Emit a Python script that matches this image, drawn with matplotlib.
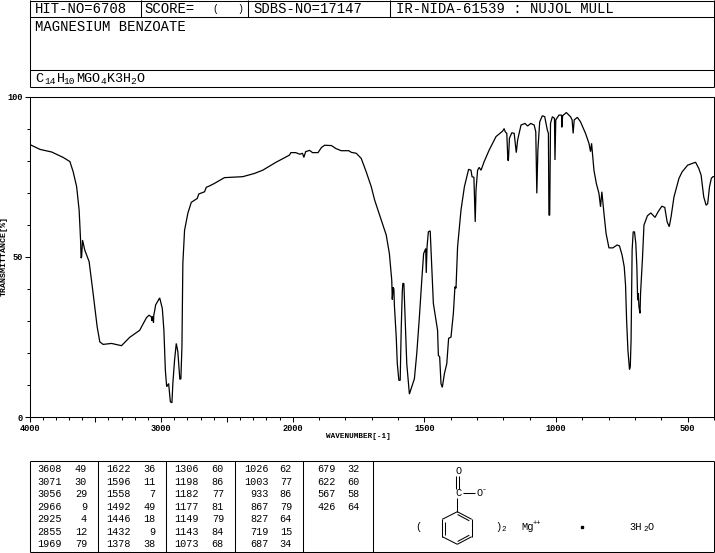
import numpy as np
import matplotlib
matplotlib.use("Agg")
import matplotlib.pyplot as plt
from matplotlib.ticker import FixedLocator, FixedFormatter

wavenumber = [4000,3996,3920,3832,3744,3693,3668,3642,3623,3612,3608,3604,3597,3580,3547,3517,3486,3466,3441,3377,3301,3239,3163,3112,3092,3074,3071,3064,3058,3056,3050,3042,3011,2991,2979,2968,2958,2943,2930,2918,2911,2898,2885,2873,2858,2850,2842,2835,2822,2797,2771,2726,2714,2670,2657,2633,2595,2519,2380,2292,2229,2127,2026,2014,1989,1973,1963,1958,1951,1936,1925,1904,1891,1879,1853,1837,1816,1787,1778,1759,1740,1721,1702,1689,1645,1633,1624,1622,1619,1616,1614,1607,1603,1597,1592,1588,1584,1582,1578,1573,1567,1557,1538,1529,1519,1510,1503,1495,1493,1490,1485,1478,1472,1466,1450,1447,1442,1437,1432,1424,1415,1408,1399,1390,1384,1380,1374,1361,1348,1332,1323,1319,1312,1307,1304,1298,1292,1285,1273,1254,1228,1203,1197,1193,1187,1183,1181,1177,1168,1159,1151,1146,1133,1118,1108,1096,1083,1077,1073,1069,1062,1052,1043,1033,1029,1027,1024,1021,1014,1006,1004,1001,989,979,978,975,961,945,939,935,931,919,907,888,875,869,865,856,847,837,831,826,818,810,799,784,768,759,749,741,736,732,727,721,718,715,711,707,702,697,693,690,688,685,681,679,672,666,653,640,624,612,598,587,578,570,563,552,533,521,500,470,458,449,439,430,424,417,410,404,400]
transmittance = [85.1,85.0,83.5,82.7,81.0,79.7,76.5,71.9,64.6,55.2,49.6,50.0,55.2,52.1,48.5,38.7,28.2,23.5,22.7,23.0,22.3,24.9,27.1,31.0,31.8,31.3,30.0,31.5,29.5,31.8,33.0,35.0,37.2,33.9,27.1,14.7,9.5,10.5,4.8,4.5,10.5,17.8,23.0,20.4,11.8,12.0,21.9,48.0,58.3,63.6,67.0,68.2,69.6,70.3,71.7,72.1,72.9,74.7,75.0,76.0,77.0,79.5,81.7,82.5,82.5,82.0,82.3,81.0,82.8,83.2,82.5,82.5,84.1,84.8,84.7,83.8,83.1,83.1,82.6,82.3,80.7,76.5,71.9,67.7,56.8,51.0,42.7,36.7,40.5,40.0,34.9,25.0,16.7,11.5,11.5,27.8,39.1,41.7,41.7,30.3,16.7,7.2,12.0,19.9,31.3,42.7,51.0,52.6,45.0,53.1,57.8,58.1,46.9,35.5,27.1,19.3,18.8,10.5,9.3,13.6,16.7,24.6,25.0,32.4,40.7,40.2,53.1,64.6,71.9,77.3,77.0,75.0,74.8,60.9,70.8,77.0,77.9,77.0,79.7,83.3,87.5,89.2,90.0,89.0,88.5,80.2,80.0,87.0,88.7,88.5,82.5,86.4,91.1,91.6,90.8,91.6,91.1,89.0,69.8,83.3,92.1,94.0,93.7,89.5,88.5,63.0,63.0,91.6,93.7,93.2,80.2,92.7,94.2,94.2,90.4,94.0,95.0,93.7,92.7,88.5,92.7,93.5,92.1,88.5,85.4,82.8,85.4,77.0,72.9,69.8,65.6,70.3,63.6,57.3,52.8,52.8,53.7,53.4,50.5,46.9,41.2,30.3,20.9,14.9,15.7,24.0,52.1,57.8,57.8,54.2,46.9,36.5,38.6,34.4,32.4,38.6,49.0,59.9,62.8,63.7,62.3,64.1,65.8,65.4,60.9,59.4,62.5,68.7,74.5,76.5,78.6,79.5,77.6,75.5,68.7,66.1,66.6,71.9,74.5,75.0,75.0]

peak_columns = [
    [("3608",49),("3071",30),("3056",29),("2966",9),("2925",4),("2855",12),("1969",79)],
    [("1622",36),("1596",11),("1558",7),("1492",49),("1446",18),("1432",9),("1378",38)],
    [("1306",60),("1198",86),("1182",77),("1177",81),("1149",79),("1143",84),("1073",68)],
    [("1026",62),("1003",77),("933",86),("867",79),("827",64),("719",15),("687",34)],
    [("679",32),("622",60),("567",58),("426",64)],
]
x_tick_labels = [4000, 3000, 2000, 1500, 1000, 500]
y_tick_labels = [0, 50, 100]

W, H = 715, 553
MONO = "Liberation Mono"
LW = 0.75
fig = plt.figure(figsize=(W/100, H/100), dpi=100, facecolor="white")

# page furniture in pixel coordinates
page = fig.add_axes([0, 0, 1, 1])
page.set_xlim(0, W); page.set_ylim(H, 0); page.axis("off")

def seg(x0, y0, x1, y1, lw=LW):
    page.plot([x0, x1], [y0, y1], color="black", lw=lw, solid_capstyle="butt")

def txt(x, y, s, size=10, ha="left", **kw):
    page.text(x, y, s, fontsize=size, family=MONO, ha=ha, va="center", color="black", **kw)

L, R = 29.5, 714
seg(L, 0.5, R, 0.5); seg(L, 17, R, 17); seg(L, 69.5, R, 69.5); seg(L, 87.3, R, 87.3)
seg(L, 0, L, 87.3); seg(R, 0, R, 87.3)
for vx in (141, 248.3, 390.3):
    seg(vx, 0, vx, 17)
txt(35, 9.3, "HIT-NO=6708"); txt(144, 9.3, "SCORE=")
txt(212.5, 9.3, "(", size=7); txt(237.5, 9.3, ")", size=7)
txt(253, 9.3, "SDBS-NO=17147"); txt(396, 9.3, "IR-NIDA-61539 : NUJOL MULL")
txt(35, 27, "MAGNESIUM BENZOATE")
for x, s, big in [(35,"C",1),(44,"14",0),(56.5,"H",1),(63.5,"10",0),(76,"MGO",1),(100.5,"4",0),(107,"K3H",1),(130.5,"2",0),(136.5,"O",1)]:
    if big:
        txt(x, 78.5, s, size=9.6)
    else:
        txt(x, 82, s, size=6.8)

# lower table
T0, T1 = 460.7, 552.3
seg(L, T0, R, T0); seg(L, T1, R, T1); seg(L, T0, L, T1); seg(R, T0, R, T1)
for vx in (98.3, 166, 235.3, 303, 372.5):
    seg(vx, T0, vx, T1)
code_right = [62, 130.7, 199, 268.7, 336]
val_right = [87, 155.7, 224, 292, 360]
row_y = [469.3, 481.8, 494.3, 506.8, 519.3, 531.8, 544]
for col, cx, vx in zip(peak_columns, code_right, val_right):
    for (code, val), y in zip(col, row_y):
        txt(cx, y, code, size=7.3, ha="right")
        txt(vx, y, str(val), size=7.3, ha="right")

# structure
ring = [(457.3,511.7),(471.7,519.3),(471.7,536.7),(457.3,544.3),(442.3,536.7),(442.3,519.3),(457.3,511.7)]
for a, b in zip(ring, ring[1:]):
    seg(a[0], a[1], b[0], b[1])
seg(445, 521.5, 445, 534.5); seg(457.6, 514.5, 469.3, 520.8); seg(457.6, 541.5, 469.3, 535.2)
seg(457.3, 497.5, 457.3, 511.7); seg(456.3, 475.5, 456.3, 488.5); seg(458.8, 475.5, 458.8, 488.5)
seg(462.5, 493.3, 474.5, 493.3)
txt(458, 493, "C", size=7.5, ha="center"); txt(458.7, 471, "O", size=7.5, ha="center")
txt(480, 493, "O", size=7.5, ha="center"); txt(484.5, 490, "-", size=6, ha="center")
txt(418.5, 526.7, "(", size=7.5, ha="center"); txt(498.5, 527, ")", size=7.5, ha="center")
txt(503.5, 529.5, "2", size=5.5, ha="center")
txt(528, 527, "Mg", size=7.5, ha="center"); txt(537, 524, "++", size=5, ha="center")
page.plot([582], [527], marker="s", ms=1.8, color="black")
txt(629, 527, "3H", size=7.5); txt(643, 529.5, "2", size=5.5); txt(647, 527, "O", size=7.5)

# axis titles
txt(358.5, 437, "WAVENUMBER[-1]", size=5.5, ha="center", fontweight="bold")
page.text(4, 256.5, "TRANSMITTANCE[%]", fontsize=6.0, family=MONO, rotation=90, ha="center", va="center", fontweight="bold")

# spectrum axes
ax_top, ax_bot = 96.5, 417.2
ax = fig.add_axes([L/W, 1-ax_bot/H, (R-L)/W, (ax_bot-ax_top)/H])
ax.patch.set_alpha(0)

def fwd(x):
    x = np.asarray(x, dtype=float)
    return np.where(x >= 2000, x, 2000 - (2000 - x) * 2.0)

def inv(v):
    v = np.asarray(v, dtype=float)
    return np.where(v >= 2000, v, 2000 - (2000 - v) / 2.0)

ax.set_xscale("function", functions=(fwd, inv))
ax.plot(wavenumber, transmittance, color="black", lw=0.9, solid_joinstyle="miter", clip_on=True)
ax.set_xlim(4000, 400)
ax.set_ylim(0, 100)
for s in ax.spines.values():
    s.set_linewidth(LW)

major_x = list(range(500, 4001, 500))
minor_x = [v for v in range(400, 4001, 100) if v not in major_x]
ax.xaxis.set_major_locator(FixedLocator(major_x))
ax.xaxis.set_minor_locator(FixedLocator(minor_x))
ax.xaxis.set_major_formatter(FixedFormatter([str(v) if v in x_tick_labels else "" for v in major_x]))
ax.xaxis.set_minor_formatter(FixedFormatter([]))
ax.yaxis.set_major_locator(FixedLocator(y_tick_labels))
ax.yaxis.set_minor_locator(FixedLocator([v for v in range(10, 100, 10) if v not in y_tick_labels]))
ax.set_yticklabels(["0", "50", "100"])
ax.tick_params(axis="both", which="major", length=3.5, width=LW, labelsize=6.2, pad=1.5)
ax.tick_params(axis="both", which="minor", length=2, width=LW)
for lab in ax.get_xticklabels() + ax.get_yticklabels():
    lab.set_family(MONO)
    lab.set_fontweight("bold")

fig.savefig("out.png", dpi=100, facecolor="white")
